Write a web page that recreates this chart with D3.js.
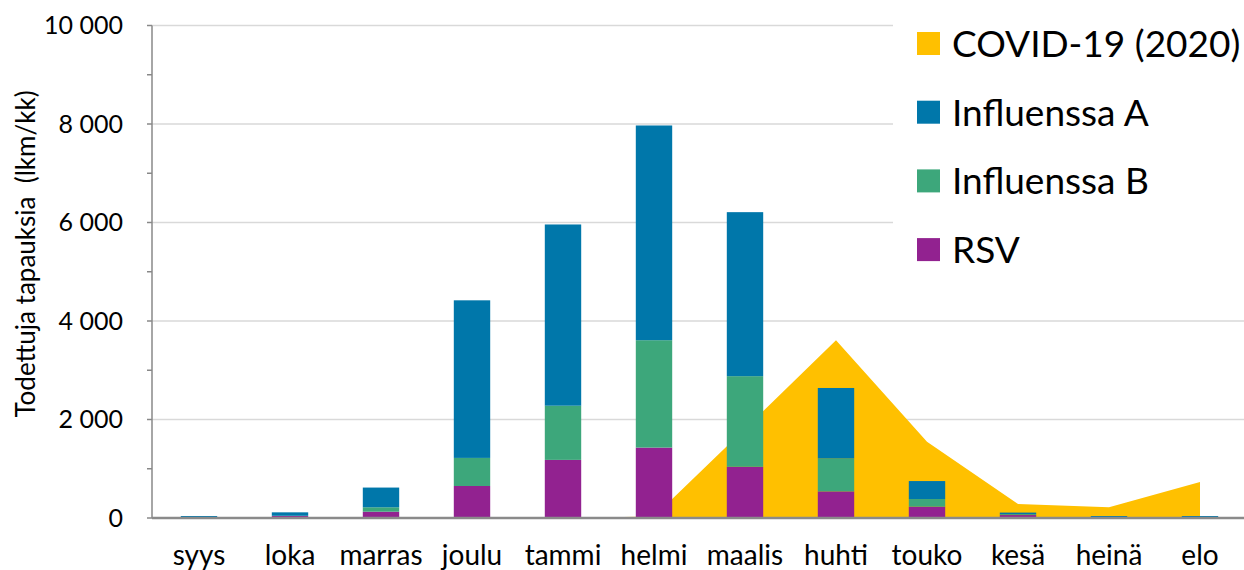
<!DOCTYPE html>
<html>
<head>
<meta charset="utf-8">
<script src="https://cdn.jsdelivr.net/npm/d3@7"></script>
<style>
  html, body { margin: 0; padding: 0; background: #fff; }
  svg { display: block; font-family: Lato, "Open Sans", sans-serif; }
</style>
</head>
<body>
<div id="chart"></div>
<script>
// months (Sept - Aug)
var months = ["syys", "loka", "marras", "joulu", "tammi", "helmi", "maalis", "huhti", "touko", "kesä", "heinä", "elo"];
// stacked bars
var rsv   = [5, 40, 128, 650, 1180, 1430, 1040, 540, 230, 60, 5, 3];
var inflB = [5, 5, 90, 570, 1100, 2180, 1840, 670, 155, 15, 5, 2];
var inflA = [30, 70, 400, 3200, 3680, 4360, 3330, 1430, 365, 35, 30, 35];
// area
var covid = [0, 0, 0, 0, 0, 30, 1810, 3610, 1550, 285, 217, 730];
var yTicks = [0, 2000, 4000, 6000, 8000, 10000];
var minorTicks = d3.range(0, 10001, 1000);

var seriesNames = ["COVID-19 (2020)", "Influenssa A", "Influenssa B", "RSV"];
var colours = {"COVID-19 (2020)": "#FFC000", "Influenssa A": "#0077AA", "Influenssa B": "#3DA77B", "RSV": "#922290"};

var width = 1244, height = 570;
var plotLeft = 152, plotRight = 1244, plotBottom = 518, plotTop = 25.5;

var rows = months.map(function (m, i) {
    return {month: m, RSV: rsv[i], "Influenssa B": inflB[i], "Influenssa A": inflA[i], covid: covid[i]};
});

var svg = d3.select("#chart").append("svg")
    .attr("width", width)
    .attr("height", height);

var x = d3.scaleBand().domain(months).range([153.5, 1245.5])
    .paddingInner(0.6).paddingOuter(0.3);
var y = d3.scaleLinear().domain([0, 10000]).range([plotBottom, plotTop]);

//gridlines
svg.append("g").selectAll("line")
    .data(yTicks.filter(function (d) { return d > 0; }))
    .enter().append("line")
    .attr("x1", plotLeft).attr("x2", plotRight)
    .attr("y1", function (d) { return y(d); })
    .attr("y2", function (d) { return y(d); })
    .style("stroke", "#d9d9d9")
    .style("stroke-width", 1.5);

//covid area behind the bars
var area = d3.area()
    .x(function (d) { return x(d.month) + x.bandwidth() / 2; })
    .y0(y(0))
    .y1(function (d) { return y(d.covid); });
svg.append("path")
    .datum(rows)
    .attr("d", area)
    .style("fill", colours["COVID-19 (2020)"]);

//stacked bars
var stack = d3.stack().keys(["RSV", "Influenssa B", "Influenssa A"]);
svg.append("g").selectAll("g")
    .data(stack(rows))
    .enter().append("g")
    .style("fill", function (d) { return colours[d.key]; })
    .selectAll("rect")
    .data(function (d) { return d; })
    .enter().append("rect")
    .attr("x", function (d) { return x(d.data.month); })
    .attr("width", x.bandwidth())
    .attr("y", function (d) { return y(d[1]); })
    .attr("height", function (d) { return y(d[0]) - y(d[1]); });

//y axis
var yAxis = svg.append("g").attr("transform", "translate(" + plotLeft + ",0)");
yAxis.append("line")
    .attr("y1", y(10000)).attr("y2", y(0))
    .style("stroke", "#888").style("stroke-width", 1.5);
yAxis.selectAll(".tick")
    .data(minorTicks)
    .enter().append("line")
    .attr("x1", -5).attr("x2", 0)
    .attr("y1", function (d) { return y(d); })
    .attr("y2", function (d) { return y(d); })
    .style("stroke", "#888").style("stroke-width", 1.5);
var fmt = function (d) { return d3.format(",")(d).replace(/,/g, " "); };
yAxis.selectAll("text")
    .data(yTicks)
    .enter().append("text")
    .attr("x", -29)
    .attr("y", function (d) { return y(d); })
    .attr("dy", "0.35em")
    .attr("text-anchor", "end")
    .style("font-size", "25px")
    .style("fill", "#000")
    .text(fmt);

svg.append("text")
    .attr("transform", "translate(35,254) rotate(-90)")
    .attr("text-anchor", "middle")
    .style("font-size", "26px")
    .attr("xml:space", "preserve")
    .text("Todettuja tapauksia  (lkm/kk)");

//x axis
svg.append("line")
    .attr("x1", plotLeft).attr("x2", plotRight)
    .attr("y1", y(0)).attr("y2", y(0))
    .style("stroke", "#8a8a8a").style("stroke-width", 2.5);
svg.append("g").selectAll("text")
    .data(months)
    .enter().append("text")
    .attr("x", function (d) { return x(d) + x.bandwidth() / 2; })
    .attr("y", 565)
    .attr("text-anchor", "middle")
    .style("font-size", "28px")
    .text(function (d) { return d; });

//legend
svg.append("rect")
    .attr("x", 893).attr("y", 0)
    .attr("width", 351).attr("height", 285)
    .style("fill", "#fff");
var legend = svg.selectAll(".legend")
    .data(seriesNames)
    .enter().append("g")
    .attr("class", "legend")
    .attr("transform", function (d, i) { return "translate(917," + (43.5 + i * 68.7) + ")"; });
legend.append("rect")
    .attr("y", -11.5)
    .attr("width", 23).attr("height", 23)
    .style("fill", function (d) { return colours[d]; });
legend.append("text")
    .attr("x", 35)
    .attr("dy", "0.36em")
    .style("font-size", "37px")
    .text(function (d) { return d; });
</script>
</body>
</html>
